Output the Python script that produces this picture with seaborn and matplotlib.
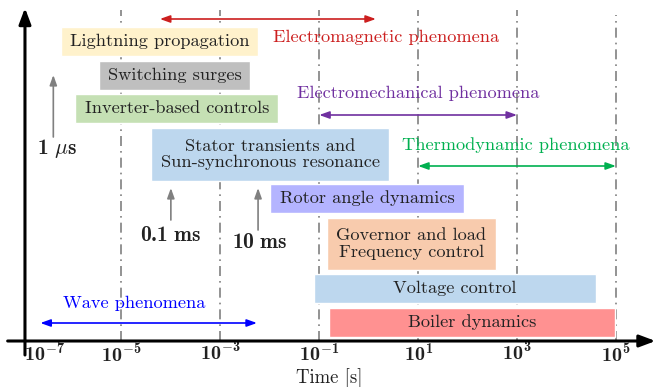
import numpy as np
import matplotlib
matplotlib.use("Agg")
import matplotlib.pyplot as plt
import seaborn as sns

# time scales in seconds
box_labels = ["Lightning propagation", "Switching surges", "Inverter-based controls",
              "Stator transients and\nSun-synchronous resonance", "Rotor angle dynamics",
              "Governor and load\nFrequency control", "Voltage control", "Boiler dynamics"]
box_start = [6.0e-7, 3.5e-6, 1.15e-6, 4.0e-5, 1.0e-2, 0.145, 0.078, 0.16]
box_end = [5.7e-3, 4.0e-3, 1.5e-2, 2.6, 85, 370, 4.0e4, 9.5e4]

phen_labels = ["Electromagnetic phenomena", "Electromechanical phenomena",
               "Thermodynamic phenomena", "Wave phenomena"]
phen_start = [6.0e-5, 0.1, 10, 2.3e-7]
phen_end = [1.4, 1000, 1e5, 5.5e-3]

mark_labels = [r"$\mathbf{1}\ \mu\mathbf{s}$", r"$\mathbf{0.1\ ms}$", r"$\mathbf{10\ ms}$"]
mark_times = [4.2e-7, 1e-4, 5.8e-3]

decades = [-7, -5, -3, -1, 1, 3, 5]

# layout (vertical units = pixels from bottom)
box_y = [345.5, 311.5, 278.5, 232.5, 188.5, 143, 98.5, 64.5]
box_h = [29, 29, 29, 53, 29, 52, 29, 29]
box_colors = ["#FFF2CC", "#BFBFBF", "#C5E0B4", "#BDD7EE", "#B4B4FF", "#F8CBAD", "#BDD7EE", "#FF9191"]
phen_y = [368, 272, 221, 64]
phen_text_x = [2.2, 9.8, 955, 1.8e-5]
phen_text_y = [350, 294, 242, 84]
phen_colors = ["#CC1F1F", "#7030A0", "#00B050", "#0000FF"]
mark_y0 = [250, 167, 157]
mark_y1 = [312, 199, 199]
mark_text_x = [5.0e-7, 1e-4, 6.3e-3]
mark_text_y = [238, 152, 145]

sns.set_theme(style="white")
plt.rcParams["font.family"] = ["cmr10", "DejaVu Serif"]
plt.rcParams["mathtext.fontset"] = "custom"
plt.rcParams["mathtext.rm"] = "cmr10"
plt.rcParams["mathtext.bf"] = "cmb10"
plt.rcParams["mathtext.it"] = "cmmi10"
plt.rcParams["mathtext.fallback"] = "cm"
plt.rcParams["axes.unicode_minus"] = False

fig = plt.figure(figsize=(6.56, 3.87), dpi=100)
ax = fig.add_axes([0, 0, 1, 1])
ax.set_xscale("log")
ax.set_xlim(10 ** -7.455, 10 ** 5.81)
ax.set_ylim(0, 387)
ax.axis("off")

# dash-dot decade guides
for d in decades[1:]:
    top = 372 if d == 5 else 377
    ax.plot([10.0 ** d, 10.0 ** d], [46, top], color="#808080", lw=1.2,
            dashes=(6, 3, 1, 3), zorder=1)

# boxes
for lab, s, e, y, h, c in zip(box_labels, box_start, box_end, box_y, box_h, box_colors):
    ax.barh(y, e - s, left=s, height=h, color=c, zorder=2)
    ax.text(np.sqrt(s * e), y, lab, ha="center", va="center", fontsize=13.2,
            color="#222222", zorder=3, linespacing=1.1)

# phenomena ranges
for lab, s, e, y, tx, ty, c in zip(phen_labels, phen_start, phen_end, phen_y,
                                   phen_text_x, phen_text_y, phen_colors):
    ax.annotate("", xy=(e, y), xytext=(s, y),
                arrowprops=dict(arrowstyle="<|-|>,head_length=0.5,head_width=0.18",
                                color=c, lw=1.2, shrinkA=0, shrinkB=0), zorder=4)
    ax.text(tx, ty, lab, ha="center", va="center", fontsize=13.2, color=c, zorder=4)

# gray markers
for lab, t, y0, y1, tx, ty in zip(mark_labels, mark_times, mark_y0, mark_y1,
                                  mark_text_x, mark_text_y):
    ax.annotate("", xy=(t, y1), xytext=(t, y0),
                arrowprops=dict(arrowstyle="-|>,head_length=0.5,head_width=0.18",
                                color="#808080", lw=1.2, shrinkA=0, shrinkB=0))
    ax.text(tx, ty, lab, ha="center", va="center", fontsize=15.5, color="#222222")

# axes with arrows
x_axis = 10 ** -6.95
ax.annotate("", xy=(10 ** 5.8, 46), xytext=(10 ** -7.3, 46),
            arrowprops=dict(arrowstyle="-|>,head_length=0.8,head_width=0.3",
                            color="black", lw=2.2, shrinkA=0, shrinkB=0), zorder=5)
ax.annotate("", xy=(x_axis, 379), xytext=(x_axis, 32),
            arrowprops=dict(arrowstyle="-|>,head_length=0.8,head_width=0.3",
                            color="black", lw=2.2, shrinkA=0, shrinkB=0), zorder=5)

# tick labels
for d in decades:
    xpos = 10.0 ** (d + 0.45) if d == -7 else 10.0 ** d
    ax.text(xpos, 45, r"$\mathbf{10^{%d}}$" % d, ha="center", va="top",
            fontsize=14.5, color="#222222")

ax.text(10 ** -0.8, 9, "Time [s]", ha="center", va="center", fontsize=13.5, color="#222222")

fig.savefig("out.png", dpi=100)
